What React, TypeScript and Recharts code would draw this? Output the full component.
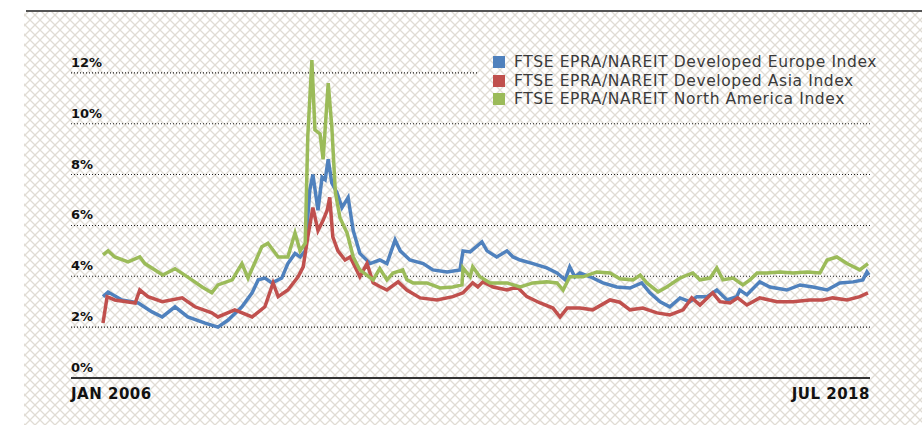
import { LineChart, Line, XAxis, YAxis, CartesianGrid } from "recharts"

// months counted from Jan 2006, yields in %
const europe: [number, number][] = [
  [0, 3.2], [1, 3.38], [3.7, 3.07], [6.9, 2.95], [9.6, 2.6], [11.6, 2.4], [14.1, 2.8], [16.6, 2.4],
  [20, 2.16], [22.5, 2.0], [24.5, 2.28], [27.2, 2.8], [29.2, 3.35], [30.4, 3.86], [31.7, 3.93],
  [33.1, 3.74], [35, 3.93], [36.2, 4.5], [37.6, 4.9], [38.6, 4.76], [39.6, 5.0], [40.5, 7.4],
  [41.1, 8.0], [42.1, 6.6], [42.9, 7.9], [43.5, 7.8], [44.1, 8.6], [44.8, 7.67], [45.8, 7.3],
  [46.8, 6.7], [48, 7.1], [49, 5.8], [50.3, 4.9], [52.3, 4.5], [54.2, 4.64], [55.6, 4.5],
  [57.2, 5.43], [58.2, 5.0], [60.1, 4.64], [62.7, 4.5], [64.6, 4.25], [67.4, 4.17], [69.9, 4.25],
  [70.5, 5.0], [71.9, 4.96], [74.2, 5.35], [75.2, 5.0], [77.1, 4.76], [79.1, 5.0], [80.3, 4.76],
  [81.7, 4.64], [84.2, 4.5], [86.9, 4.33], [88.9, 4.13], [90.5, 3.86], [91.4, 4.37], [92.4, 3.98],
  [93.4, 4.13], [95.4, 3.98], [97.9, 3.74], [100.6, 3.58], [103.2, 3.54], [105.5, 3.74],
  [107.1, 3.35], [109.1, 3.0], [111, 2.8], [113, 3.15], [114.9, 3.0], [116.3, 3.2], [118.3, 3.2],
  [120.2, 3.46], [122.2, 3.07], [124.1, 3.2], [124.7, 3.46], [126.1, 3.27], [128.6, 3.78],
  [130.6, 3.58], [133.9, 3.46], [136.5, 3.66], [139, 3.58], [141.8, 3.46], [144.3, 3.74],
  [146.9, 3.78], [148.8, 3.86], [149.6, 4.17], [150, 4.05],
]

const asia: [number, number][] = [
  [0, 2.16], [0.8, 3.2], [2.3, 3.07], [6.3, 2.95], [7.2, 3.46], [8.8, 3.2], [11.6, 3.0], [15.5, 3.15],
  [18, 2.8], [21.3, 2.56], [22.5, 2.4], [25.8, 2.68], [29.2, 2.4], [31.7, 2.8], [33.3, 3.74],
  [34.3, 3.2], [36.2, 3.46], [38.2, 3.98], [39.2, 4.37], [40.1, 5.55], [41.1, 6.7], [42.1, 5.8],
  [43.1, 6.2], [43.9, 6.6], [44.4, 7.1], [45, 5.55], [46, 5.0], [47.4, 4.64], [48.4, 4.76],
  [50.3, 3.98], [51.7, 4.5], [52.9, 3.74], [54.2, 3.6], [55.6, 3.46], [57.8, 3.78], [59.5, 3.46],
  [62.1, 3.15], [65.4, 3.07], [68.5, 3.2], [70.5, 3.35], [72.4, 3.74], [73.4, 3.58], [74.4, 3.78],
  [76.4, 3.58], [79.1, 3.46], [81.1, 3.58], [83, 3.2], [85.6, 2.95], [88.1, 2.75], [89.5, 2.4],
  [90.9, 2.75], [93.4, 2.75], [95.9, 2.68], [99.3, 3.07], [101.2, 2.98], [103.2, 2.68],
  [105.7, 2.75], [108.5, 2.56], [111, 2.48], [113.6, 2.68], [115.3, 3.15], [116.9, 2.87],
  [119.4, 3.35], [120.8, 3.0], [122.8, 2.95], [124.3, 3.15], [126.1, 2.87], [128.6, 3.15],
  [132, 3.0], [135.1, 3.0], [138.4, 3.07], [141, 3.07], [142.9, 3.15], [145.7, 3.07],
  [148.2, 3.2], [149.8, 3.35],
]

const northAmerica: [number, number][] = [
  [0, 4.84], [1, 5.0], [2.3, 4.76], [4.9, 4.57], [7.2, 4.76], [8.2, 4.5], [11.7, 4.05], [14.1, 4.3],
  [17.4, 3.86], [19.4, 3.58], [21.3, 3.35], [22.5, 3.66], [25.3, 3.86], [27.2, 4.5], [28.4, 3.93],
  [31.1, 5.16], [32.3, 5.3], [34.3, 4.76], [36.2, 4.76], [37.6, 5.7], [38.6, 5.0], [39.6, 5.3],
  [40.1, 9.5], [40.9, 12.5], [41.5, 9.76], [42.5, 9.6], [43.1, 8.6], [44.1, 11.6], [44.8, 9.9],
  [45.5, 7.3], [46.4, 6.3], [47.8, 5.7], [49, 4.76], [50.3, 4.25], [52.9, 3.86], [54.2, 4.3],
  [55.6, 3.86], [56.8, 4.13], [58.7, 4.25], [59.5, 3.86], [60.7, 3.74], [63.4, 3.74], [66, 3.54],
  [68.5, 3.58], [70.3, 3.66], [70.5, 4.33], [71.9, 3.98], [72.4, 4.37], [73.8, 3.98], [75.8, 3.74],
  [79.1, 3.74], [81.7, 3.58], [84.2, 3.74], [86.9, 3.78], [88.9, 3.74], [90.1, 3.46], [91.4, 3.98],
  [94, 3.98], [96.7, 4.17], [99.3, 4.13], [101.2, 3.9], [103.8, 3.86], [105.2, 4.05], [106.5, 3.74],
  [108.7, 3.39], [110.4, 3.58], [113, 3.93], [114.4, 4.05], [115.5, 4.13], [116.9, 3.86],
  [118.9, 3.93], [120.2, 4.33], [121.4, 3.86], [123.4, 3.93], [125.3, 3.66], [126.7, 3.86],
  [128.1, 4.13], [130, 4.13], [132.6, 4.17], [135.1, 4.13], [137.9, 4.17], [140.4, 4.13],
  [141.8, 4.64], [143.7, 4.76], [145.7, 4.5], [148.2, 4.25], [149.8, 4.5],
]

const seriesNames = [
  "FTSE EPRA/NAREIT Developed Europe Index",
  "FTSE EPRA/NAREIT Developed Asia Index",
  "FTSE EPRA/NAREIT North America Index",
]
const seriesColors = ["#4f81bd", "#c0504d", "#9bbb59"]
const yTicks = [0, 2, 4, 6, 8, 10, 12]
const xTicks = [-6.27, 150.2]
const xTickLabels = ["JAN 2006", "JUL 2018"]

const PLOT_LEFT = 71
const MARGIN = { top: 22, right: 52, bottom: 0, left: 31 }

// crossed diagonal lattice behind the chart
const tile =
  "<svg xmlns='http://www.w3.org/2000/svg' width='10' height='10'><path d='M0 0L10 10M10 0L0 10' stroke='#e0dcd4' stroke-width='1.3'/></svg>"
const hatch = `url("data:image/svg+xml,${encodeURIComponent(tile)}")`

const toPoints = (rows: [number, number][]) => rows.map(([m, v]) => ({ m, v }))

function YTick({ y, payload }: { y?: number; payload?: { value: number } }) {
  return (
    <text x={PLOT_LEFT} y={(y ?? 0) - 6} textAnchor="start" fontFamily="DejaVu Sans" fontWeight="bold" fontSize={13} fill="#111">
      {payload?.value}%
    </text>
  )
}

function XTick({ x, y, index }: { x?: number; y?: number; index?: number }) {
  const first = index === 0
  return (
    <text x={x} y={(y ?? 0) + 13} textAnchor={first ? "start" : "end"} fontFamily="DejaVu Sans" fontWeight="bold" fontSize={15} letterSpacing={0.5} fill="#111">
      {xTickLabels[index ?? 0]}
    </text>
  )
}

function LegendBox() {
  return (
    <div style={{ position: "absolute", left: 479, top: 49, width: 420, backgroundColor: "#fff", backgroundImage: hatch, backgroundAttachment: "fixed", padding: "4px 0 4px 14px", boxSizing: "border-box" }}>
      {seriesNames.map((name, i) => (
        <div key={name} style={{ display: "flex", alignItems: "center", height: 18.5, fontFamily: "DejaVu Sans", fontSize: 15.5, letterSpacing: 0.6, color: "#3a3a3a", whiteSpace: "nowrap" }}>
          <span style={{ width: 12, height: 12, background: seriesColors[i], marginRight: 9, display: "inline-block", flex: "none" }} />
          {name}
        </div>
      ))}
    </div>
  )
}

export default function App() {
  const all = [europe, asia, northAmerica]
  return (
    <div style={{ position: "absolute", left: 0, top: 0, width: 922, height: 425, background: "#fff" }}>
      <div style={{ position: "absolute", left: 24, top: 12, right: 0, bottom: 0, backgroundImage: hatch, backgroundAttachment: "fixed" }} />
      <div style={{ position: "absolute", left: 26, top: 10, right: 0, height: 2, background: "#555" }} />
      <div style={{ position: "absolute", left: 0, top: 0 }}>
        <LineChart width={922} height={425} margin={MARGIN}>
          <CartesianGrid horizontal vertical={false} stroke="#222" strokeWidth={1.1} strokeDasharray="1 2" horizontalValues={[2, 4, 6, 8, 10, 12]} />
          <XAxis
            type="number"
            dataKey="m"
            domain={[xTicks[0], xTicks[1]]}
            ticks={xTicks}
            tick={<XTick />}
            tickLine={false}
            axisLine={{ stroke: "#333", strokeWidth: 2 }}
            height={47}
            allowDuplicatedCategory={false}
          />
          <YAxis type="number" domain={[0, 14]} ticks={yTicks} width={40} axisLine={false} tickLine={false} tick={<YTick />} interval={0} />
          {all.map((rows, i) => (
            <Line
              key={seriesNames[i]}
              data={toPoints(rows)}
              dataKey="v"
              name={seriesNames[i]}
              stroke={seriesColors[i]}
              strokeWidth={3.5}
              dot={false}
              type="linear"
              isAnimationActive={false}
            />
          ))}
        </LineChart>
      </div>
      <LegendBox />
    </div>
  )
}
